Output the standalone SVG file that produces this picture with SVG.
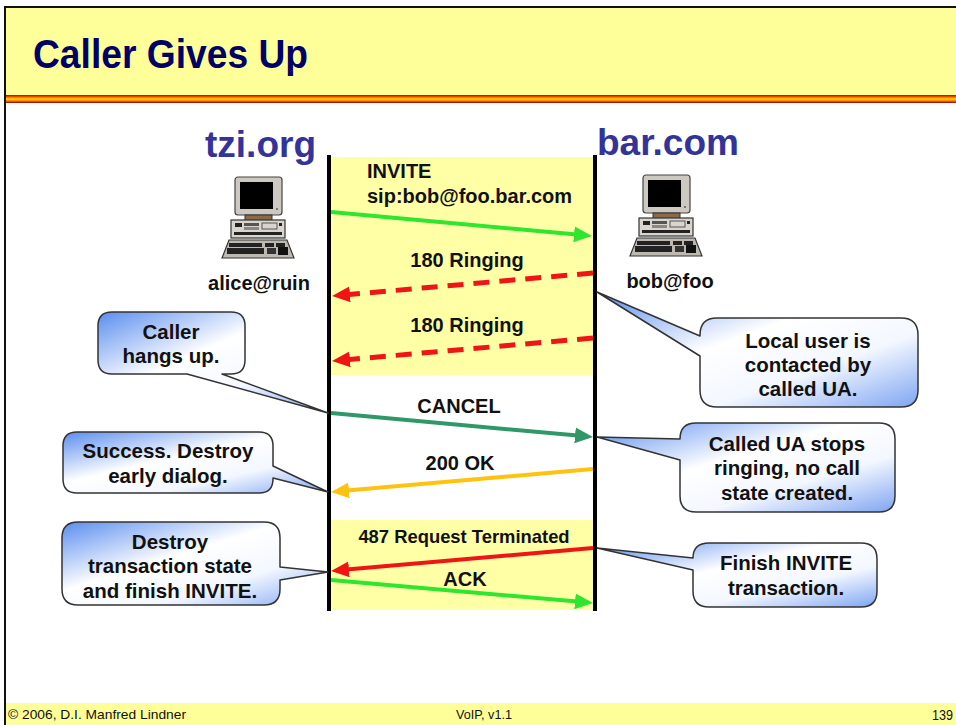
<svg xmlns="http://www.w3.org/2000/svg" xmlns:xlink="http://www.w3.org/1999/xlink" width="956" height="725" viewBox="0 0 956 725">
  <style>
    .title { font-family: "Liberation Sans Narrow", "Liberation Sans", Arial, sans-serif; font-weight: bold; font-size: 40px; fill: #000066; }
    .domain { font-family: "Liberation Sans", Arial, sans-serif; font-weight: bold; font-size: 37px; fill: #333399; }
    .host { font-family: "Liberation Sans", Arial, sans-serif; font-weight: bold; font-size: 20px; fill: #111; text-anchor: middle; }
    .msg { font-family: "Liberation Sans", Arial, sans-serif; font-weight: bold; font-size: 20px; fill: #111; }
    .mid { text-anchor: middle; }
    .small { font-size: 18.4px; }
    .note { font-family: "Liberation Sans", Arial, sans-serif; font-weight: bold; font-size: 20.5px; fill: #111; text-anchor: middle; }
    .foot { font-family: "Liberation Sans Narrow", "Liberation Sans", Arial, sans-serif; font-size: 13px; fill: #111; }
    .page { font-size: 15px; }
    .life { stroke: #000; stroke-width: 4; }
    .bubble { fill: url(#bubbleFill); stroke: #333; stroke-width: 1.5; stroke-linejoin: round; }
    .arr { fill: none; stroke-width: 4; }
    .dash { stroke-width: 5; stroke-dasharray: 16 10; }
  </style>
  <defs>
    <linearGradient id="stripe" x1="0" y1="0" x2="0" y2="1">
      <stop offset="0" stop-color="#b00000"/>
      <stop offset="0.25" stop-color="#ff5a00"/>
      <stop offset="0.5" stop-color="#ffe000"/>
      <stop offset="0.75" stop-color="#ff6a00"/>
      <stop offset="1" stop-color="#8a0000"/>
    </linearGradient>
    <linearGradient id="bubbleFill" x1="0" y1="0" x2="1" y2="1">
      <stop offset="0" stop-color="#5a8def"/>
      <stop offset="0.42" stop-color="#ffffff"/>
      <stop offset="0.68" stop-color="#f3f7ff"/>
      <stop offset="1" stop-color="#7ea5f2"/>
    </linearGradient>
    <marker id="hGreen" viewBox="0 0 18 16" refX="8" refY="8" markerWidth="18" markerHeight="16" markerUnits="userSpaceOnUse" orient="auto">
      <path d="M0,0 L18,8 L0,16 Z" fill="#2ee62e"/>
    </marker>
    <marker id="hRed" viewBox="0 0 18 16" refX="8" refY="8" markerWidth="18" markerHeight="16" markerUnits="userSpaceOnUse" orient="auto">
      <path d="M0,0 L18,8 L0,16 Z" fill="#f01414"/>
    </marker>
    <marker id="hTeal" viewBox="0 0 18 16" refX="8" refY="8" markerWidth="18" markerHeight="16" markerUnits="userSpaceOnUse" orient="auto">
      <path d="M0,0 L18,8 L0,16 Z" fill="#2e9966"/>
    </marker>
    <marker id="hGold" viewBox="0 0 18 16" refX="8" refY="8" markerWidth="18" markerHeight="16" markerUnits="userSpaceOnUse" orient="auto">
      <path d="M0,0 L18,8 L0,16 Z" fill="#ffc20e"/>
    </marker>
    <!-- desktop computer: monitor, base unit, keyboard -->
    <g id="pc">
      <rect x="13" y="2" width="47" height="38" rx="3" fill="#cdc9c0" stroke="#444" stroke-width="1.2"/>
      <rect x="18" y="7" width="33" height="27" fill="#000"/>
      <rect x="54" y="33" width="2" height="2" fill="#777"/>
      <rect x="23" y="40" width="27" height="6" fill="#8a6a48" stroke="#333" stroke-width="1"/>
      <rect x="9" y="45" width="54" height="18" fill="#d9d5cd" stroke="#333" stroke-width="1.2"/>
      <rect x="13" y="48" width="7" height="4" fill="#222"/>
      <rect x="22" y="48" width="15" height="3" fill="#555"/>
      <rect x="22" y="52" width="15" height="3" fill="#888"/>
      <rect x="40" y="48" width="15" height="6" fill="none" stroke="#555" stroke-width="1"/>
      <rect x="57" y="48" width="3" height="3" fill="#222"/>
      <rect x="12" y="57" width="48" height="3" fill="#222"/>
      <polygon points="7,65 65,65 72,83 0,83" fill="#bdb9b1" stroke="#333" stroke-width="1.2"/>
      <rect x="7" y="68" width="33" height="4" fill="#222"/>
      <rect x="43" y="68" width="9" height="4" fill="#222"/>
      <rect x="54" y="68" width="9" height="4" fill="#222"/>
      <rect x="5" y="73" width="37" height="6" fill="#222"/>
      <rect x="45" y="73" width="9" height="6" fill="#333"/>
      <rect x="56" y="72" width="10" height="8" fill="#111"/>
    </g>
  </defs>

  <!-- page frame and title bar -->
  <rect x="0" y="0" width="956" height="725" fill="#ffffff"/>
  <rect x="5" y="8" width="951" height="87" fill="#ffff99"/>
  <rect x="5" y="95" width="951" height="8" fill="url(#stripe)"/>
  <line x1="4" y1="7" x2="956" y2="7" stroke="#111" stroke-width="2"/>
  <line x1="5" y1="7" x2="5" y2="725" stroke="#111" stroke-width="2"/>
  <text class="title" x="33" y="68" textLength="275" lengthAdjust="spacingAndGlyphs">Caller Gives Up</text>

  <!-- footer -->
  <rect x="6" y="703" width="950" height="22" fill="#ffff99"/>
  <text class="foot" x="8" y="719" textLength="178" lengthAdjust="spacingAndGlyphs">© 2006, D.I. Manfred Lindner</text>
  <text class="foot" x="456" y="719" textLength="56" lengthAdjust="spacingAndGlyphs">VoIP, v1.1</text>
  <text class="foot page" x="932" y="720" textLength="21" lengthAdjust="spacingAndGlyphs">139</text>

  <!-- message exchange area -->
  <rect x="331" y="157" width="263" height="218" fill="#ffffa6"/>
  <rect x="331" y="520" width="263" height="90" fill="#ffffa6"/>

  <g id="alice">
    <text class="domain" x="316" y="157" text-anchor="end">tzi.org</text>
    <use xlink:href="#pc" href="#pc" x="222" y="175"/>
    <text class="host" x="259" y="290">alice@ruin</text>
    <line class="life" x1="329" y1="155" x2="329" y2="611"/>
  </g>

  <g id="bob">
    <text class="domain" x="597" y="155">bar.com</text>
    <use xlink:href="#pc" href="#pc" x="630" y="173"/>
    <text class="host" x="670" y="288">bob@foo</text>
    <line class="life" x1="595" y1="155" x2="595" y2="611"/>
  </g>

  <!-- messages -->
  <g id="connectors">
    <line class="arr" x1="331" y1="212" x2="582" y2="235.1" stroke="#2ee62e" marker-end="url(#hGreen)"/>
    <line class="arr dash" x1="593" y1="273" x2="342" y2="295.1" stroke="#f01414" marker-end="url(#hRed)"/>
    <line class="arr dash" x1="593" y1="338" x2="342" y2="360.1" stroke="#f01414" marker-end="url(#hRed)"/>
    <line class="arr" x1="331" y1="413" x2="583" y2="436.1" stroke="#2e9966" marker-end="url(#hTeal)"/>
    <line class="arr" x1="593" y1="469" x2="341" y2="491.1" stroke="#ffc20e" marker-end="url(#hGold)"/>
    <line class="arr" x1="593" y1="548" x2="341" y2="570.1" stroke="#f01414" marker-end="url(#hRed)"/>
    <line class="arr" x1="331" y1="580" x2="583" y2="602.1" stroke="#2ee62e" marker-end="url(#hGreen)"/>
  </g>

  <g id="labels">
    <text class="msg" x="367" y="178">INVITE</text>
    <text class="msg" x="367" y="203">sip:bob@foo.bar.com</text>
    <text class="msg mid" x="467" y="267">180 Ringing</text>
    <text class="msg mid" x="467" y="332">180 Ringing</text>
    <text class="msg mid" x="459" y="413">CANCEL</text>
    <text class="msg mid" x="460" y="470">200 OK</text>
    <text class="msg mid small" x="464" y="543">487 Request Terminated</text>
    <text class="msg mid" x="465" y="586">ACK</text>
  </g>

  <!-- callouts -->
  <g id="note-caller-hangs-up">
    <path class="bubble" d="M112,312 H231 Q245,312 245,326 V360 Q245,374 231,374 H222 L328,413 L187,374 H112 Q98,374 98,360 V326 Q98,312 112,312 Z"/>
    <text class="note" x="171" y="339">Caller</text>
    <text class="note" x="171" y="363">hangs up.</text>
  </g>

  <g id="note-local-user">
    <path class="bubble" d="M717,318 H901 Q918,318 918,335 V390 Q918,407 901,407 H717 Q700,407 700,390 V356 L597,292 L700,336 V335 Q700,318 717,318 Z"/>
    <text class="note" x="808" y="348">Local user is</text>
    <text class="note" x="808" y="372">contacted by</text>
    <text class="note" x="808" y="396">called UA.</text>
  </g>

  <g id="note-success">
    <path class="bubble" d="M77,432 H259 Q273,432 273,446 V466 L328,492 L273,478 V479 Q273,493 259,493 H77 Q63,493 63,479 V446 Q63,432 77,432 Z"/>
    <text class="note" x="168" y="458">Success. Destroy</text>
    <text class="note" x="168" y="483">early dialog.</text>
  </g>

  <g id="note-stops-ringing">
    <path class="bubble" d="M696,423 H879 Q895,423 895,439 V496 Q895,512 879,512 H696 Q680,512 680,496 V460 L597,437 L680,439 Q680,423 696,423 Z"/>
    <text class="note" x="787" y="451">Called UA stops</text>
    <text class="note" x="787" y="475">ringing, no call</text>
    <text class="note" x="787" y="500">state created.</text>
  </g>

  <g id="note-destroy">
    <path class="bubble" d="M78,522 H264 Q280,522 280,538 V567 L328,572 L280,580 V589 Q280,605 264,605 H78 Q62,605 62,589 V538 Q62,522 78,522 Z"/>
    <text class="note" x="170" y="549">Destroy</text>
    <text class="note" x="170" y="573">transaction state</text>
    <text class="note" x="170" y="598">and finish INVITE.</text>
  </g>

  <g id="note-finish">
    <path class="bubble" d="M709,543 H861 Q877,543 877,559 V591 Q877,607 861,607 H709 Q693,607 693,591 V570 L597,548 L693,558 Q693,543 709,543 Z"/>
    <text class="note" x="786" y="570">Finish INVITE</text>
    <text class="note" x="786" y="595">transaction.</text>
  </g>
</svg>
